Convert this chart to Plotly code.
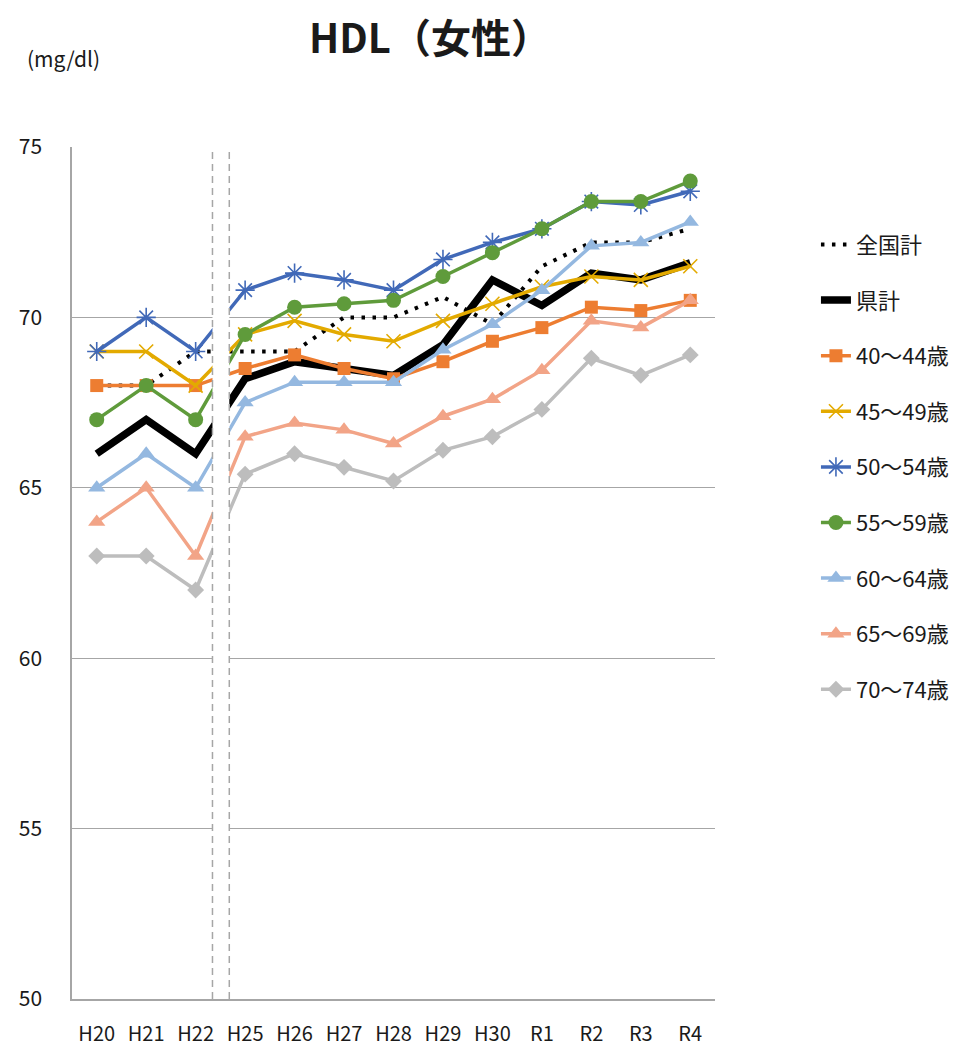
import plotly.graph_objects as go

categories = ["H20", "H21", "H22", "H25", "H26", "H27", "H28", "H29", "H30", "R1", "R2", "R3", "R4"]

national = [68.0, 68.0, 69.0, 69.0, 69.0, 70.0, 70.0, 70.6, 69.8, 71.5, 72.2, 72.2, 72.6]
prefecture = [66.0, 67.0, 66.0, 68.2, 68.7, 68.5, 68.3, 69.2, 71.1, 70.35, 71.3, 71.1, 71.6]
age_40_44 = [68.0, 68.0, 68.0, 68.5, 68.9, 68.5, 68.2, 68.7, 69.3, 69.7, 70.3, 70.2, 70.5]
age_45_49 = [69.0, 69.0, 68.0, 69.5, 69.9, 69.5, 69.3, 69.9, 70.4, 70.9, 71.2, 71.1, 71.5]
age_50_54 = [69.0, 70.0, 69.0, 70.8, 71.3, 71.1, 70.8, 71.7, 72.2, 72.6, 73.4, 73.3, 73.7]
age_55_59 = [67.0, 68.0, 67.0, 69.5, 70.3, 70.4, 70.5, 71.2, 71.9, 72.6, 73.4, 73.4, 74.0]
age_60_64 = [65.0, 66.0, 65.0, 67.5, 68.1, 68.1, 68.1, 69.05, 69.8, 70.8, 72.1, 72.2, 72.8]
age_65_69 = [64.0, 65.0, 63.0, 66.5, 66.9, 66.7, 66.3, 67.1, 67.6, 68.45, 69.9, 69.7, 70.5]
age_70_74 = [63.0, 63.0, 62.0, 65.4, 66.0, 65.6, 65.2, 66.1, 66.5, 67.3, 68.8, 68.3, 68.9]

names = ["全国計", "県計", "40〜44歳", "45〜49歳", "50〜54歳", "55〜59歳", "60〜64歳", "65〜69歳", "70〜74歳"]
y_ticks = [50, 55, 60, 65, 70, 75]

FONT = "Noto Sans CJK JP"
TXT = "#1a1a1a"
GRID = "#a6a6a6"

fig = go.Figure()

fig.add_trace(go.Scatter(x=categories, y=national, name=names[0], mode="lines",
                         line=dict(color="black", width=4, dash="3.5px,7.5px"),
                         legendgroup="g0"))
fig.add_trace(go.Scatter(x=categories, y=prefecture, name=names[1], mode="lines",
                         line=dict(color="black", width=7.5),
                         legendgroup="g1"))

series = [
    (age_40_44, "#ED7D31", dict(symbol="square", size=13, color="#ED7D31")),
    (age_45_49, "#E3AA00", dict(symbol="x-thin-open", size=14, color="#E3AA00",
                                line=dict(color="#E3AA00", width=1.6))),
    (age_50_54, "#4169B8", dict(symbol="asterisk-open", size=16, color="#4169B8",
                                line=dict(color="#4169B8", width=1.6))),
    (age_55_59, "#5F9B3B", dict(symbol="circle", size=15, color="#5F9B3B")),
    (age_60_64, "#94B8E0", dict(symbol="triangle-up", size=15, color="#94B8E0")),
    (age_65_69, "#F2A487", dict(symbol="triangle-up", size=15, color="#F2A487")),
    (age_70_74, "#BDBDBD", dict(symbol="diamond", size=13, color="#BDBDBD")),
]
for i, (vals, col, mk) in enumerate(series):
    fig.add_trace(go.Scatter(x=categories, y=vals, name=names[i + 2], mode="lines+markers",
                             line=dict(color=col, width=3.5), marker=mk,
                             legendgroup="g%d" % (i + 2)))

# break band between H22 and H25
fig.add_shape(type="rect", xref="x", yref="y", x0=2.34, x1=2.68, y0=50.03, y1=74.97,
              fillcolor="white", line=dict(width=0), layer="above")
for xv in (2.34, 2.68):
    fig.add_shape(type="line", xref="x", yref="y", x0=xv, x1=xv, y0=50, y1=74.95,
                  line=dict(color=GRID, width=1.5, dash="7px,5px"), layer="above")

fig.add_annotation(text="<b>HDL（女性）</b>", xref="paper", yref="paper",
                   x=0.556, y=1.130, xanchor="center", yanchor="middle", showarrow=False,
                   font=dict(family=FONT, size=40, color=TXT))
fig.add_annotation(text="(mg/dl)", xref="paper", yref="paper",
                   x=-0.073, y=1.1045, xanchor="left", yanchor="middle", showarrow=False,
                   font=dict(family=FONT, size=21, color=TXT))

fig.update_layout(
    width=964, height=1040,
    margin=dict(l=64, r=257, t=139, b=49, autoexpand=False),
    paper_bgcolor="white", plot_bgcolor="white",
    font=dict(family=FONT, size=20, color=TXT),
    showlegend=True,
    legend=dict(x=1.157, y=0.91, xanchor="left", yanchor="top",
                font=dict(family=FONT, size=22, color=TXT),
                tracegroupgap=24, bgcolor="rgba(0,0,0,0)"),
    xaxis=dict(type="category", range=[-0.5, 12.5], showgrid=False, automargin=False,
               showline=True, linecolor=GRID, linewidth=1.5, ticks="",
               tickfont=dict(family=FONT, size=20, color=TXT), ticklabelstandoff=16),
    yaxis=dict(range=[50, 75], tickvals=y_ticks, showgrid=True, gridcolor=GRID, gridwidth=1.3,
               automargin=False,
               showline=True, linecolor=GRID, linewidth=1.5, ticks="", zeroline=False,
               tickfont=dict(family=FONT, size=21, color=TXT), ticklabelstandoff=24),
)

fig.write_html("out.html")
